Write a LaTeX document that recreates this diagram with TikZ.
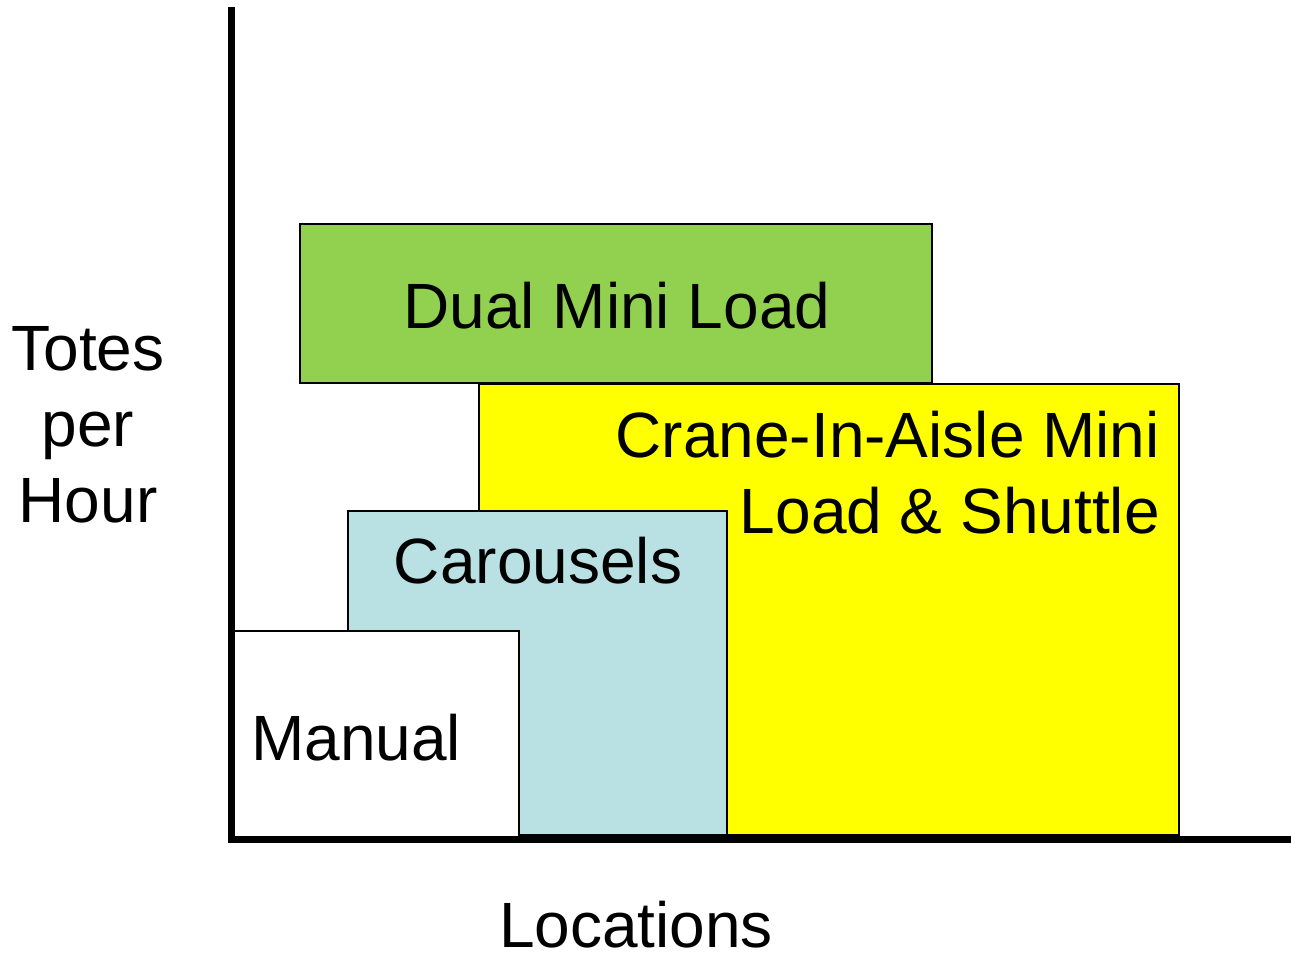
\documentclass[tikz,border=0pt]{standalone}
\usepackage{fontspec}
\setmainfont{Liberation Sans}
\definecolor{dmgreen}{HTML}{92D050}
\definecolor{ciayellow}{HTML}{FFFF00}
\definecolor{carblue}{HTML}{B9E0E3}
\tikzset{
  box/.style={draw=black, line width=1.8pt},
  axisline/.style={draw=black, line width=7pt},
  lbl/.style={font=\fontsize{64}{76}\selectfont, inner sep=0pt, anchor=base},
}
\begin{document}
\begin{tikzpicture}[x=1pt, y=-1pt]
\useasboundingbox (0,0) rectangle (1291,956);
% boxes
\draw[box, fill=dmgreen] (300,224) rectangle (932,383);
\draw[box, fill=ciayellow] (479,384) rectangle (1179,835);
\draw[box, fill=carblue] (348,511) rectangle (727,835);
\draw[box, fill=white] (232,631) rectangle (519,838);
% axes
\coordinate (top) at (231,7);
\coordinate (origin) at (231,839);
\coordinate (right) at (1291,839);
\draw[axisline] (top) -- (origin) -- (right);
% labels
\node[lbl] (dml) at (617,328) {Dual Mini Load};
\node[lbl, anchor=base east] (cia1) at (1160,457) {Crane-In-Aisle Mini};
\node[lbl, anchor=base east] (cia2) at (1160,533) {Load \& Shuttle};
\node[lbl] (car) at (538,583) {Carousels};
\node[lbl, anchor=base west] (man) at (251,760) {Manual};
\node[lbl] (y1) at (88,370) {Totes};
\node[lbl] (y2) at (88,446) {per};
\node[lbl] (y3) at (88,522) {Hour};
\node[lbl, text depth=0pt] (xl) at (636,947) {Locations};
\end{tikzpicture}
\end{document}
